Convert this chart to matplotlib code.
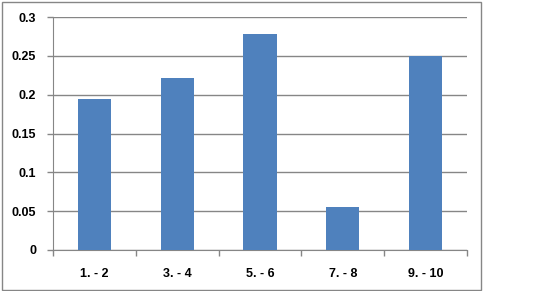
import matplotlib
matplotlib.use("Agg")
import matplotlib.pyplot as plt
from matplotlib.patches import Rectangle

categories = ["1. - 2", "3. - 4", "5. - 6", "7. - 8", "9. - 10"]
values = [0.194, 0.222, 0.278, 0.056, 0.25]
yticks = [0, 0.05, 0.1, 0.15, 0.2, 0.25, 0.3]
ytick_labels = ["0", "0.05", "0.1", "0.15", "0.2", "0.25", "0.3"]

W, H = 537, 291
grey = "#868686"

fig = plt.figure(figsize=(W / 100, H / 100), dpi=100)
ax = fig.add_axes([53 / W, (H - 250) / H, (467 - 53) / W, (250 - 17) / H])

x = list(range(len(categories)))
ax.bar(x, values, width=0.4, color="#4f81bd", zorder=3)

ax.set_xlim(-0.5, len(categories) - 0.5)
ax.set_ylim(0, 0.3)
ax.set_yticks(yticks)
ax.set_yticklabels(ytick_labels)
ax.yaxis.grid(True, color=grey, linewidth=1, zorder=0)

# tick marks on category boundaries, labels centred
ax.set_xticks([i - 0.5 for i in range(len(categories) + 1)])
ax.set_xticklabels([])
ax.set_xticks(x, minor=True)
ax.set_xticklabels(categories, minor=True)
ax.tick_params(axis="x", which="major", length=4, color=grey, width=1)
ax.tick_params(axis="x", which="minor", length=0, pad=13)
ax.tick_params(axis="y", length=4, color=grey, width=1, pad=8)

for lbl in ax.get_xticklabels(minor=True) + ax.get_yticklabels():
    lbl.set_fontfamily("Liberation Sans")
    lbl.set_fontweight("bold")
    lbl.set_fontsize(9)

for s in ["top", "right"]:
    ax.spines[s].set_visible(False)
ax.spines["left"].set_color(grey)
ax.spines["bottom"].set_color(grey)

# chart area border
fig.add_artist(Rectangle((1.5 / W, 1.5 / H), 480 / W, 288 / H,
                         transform=fig.transFigure, fill=False,
                         edgecolor=grey, linewidth=1))

fig.savefig("out.png", dpi=100)
